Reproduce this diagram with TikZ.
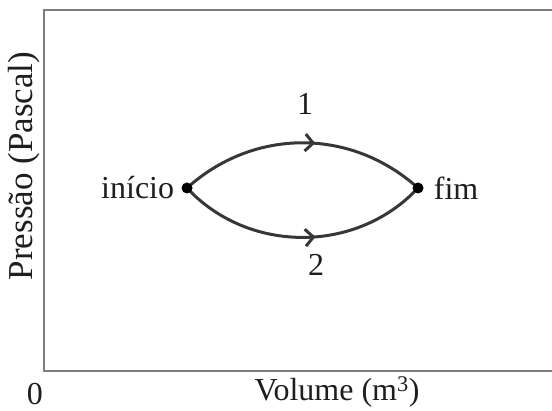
\documentclass[tikz,border=0pt]{standalone}
\usepackage{fontspec}
\setmainfont{Liberation Serif}
\usepackage{xcolor}
\usepackage{tikz}
\definecolor{framegray}{RGB}{125,125,125}
\definecolor{pathgray}{RGB}{55,55,55}
\definecolor{inkgray}{RGB}{30,30,30}
\usetikzlibrary{positioning,arrows.meta,decorations.markings}

\begin{document}
\begin{tikzpicture}[x=1pt,y=-1pt,
    lbl/.style={font=\fontsize{32}{36}\selectfont, text=inkgray, inner sep=0pt},
    statept/.style={circle, fill=black, inner sep=0pt, minimum size=11pt},
    process/.style={draw=pathgray, line width=3pt,
        decoration={markings, mark=at position 0.55 with {\arrow{Straight Barb[length=8pt,width=17pt,line width=3pt]}}},
        postaction={decorate}},
    frame/.style={draw=framegray, line width=2pt}
]
\useasboundingbox (0,0) rectangle (552,411);
% axes box (open on the right)
\draw[frame] (552,10) -- (44,10) -- (44,371) -- (552,371);
\node[lbl] (zero) at (35,394) {0};
\node[lbl] (xlabel) at (337,392) {Volume (m\textsuperscript{3})};
\node[lbl, rotate=90, font=\fontsize{35}{40}\selectfont] (ylabel) at (24,166) {Pressão (Pascal)};

% states
\coordinate (ini) at (187,188);
\coordinate (fim) at (418,188);

% the two processes
\draw[process] (ini) to[out=42,in=138] (fim);
\draw[process] (ini) to[out=-47,in=-133] (fim);
\node[lbl] (one) at (305,104) {1};
\node[lbl] (two) at (316,265) {2};

\node[statept] (inidot) at (ini) {};
\node[statept] (fimdot) at (fim) {};
\node[lbl, left=7pt of inidot] (initxt) {início};
\node[lbl, right=10pt of fimdot] (fimtxt) {fim};
\end{tikzpicture}
\end{document}
